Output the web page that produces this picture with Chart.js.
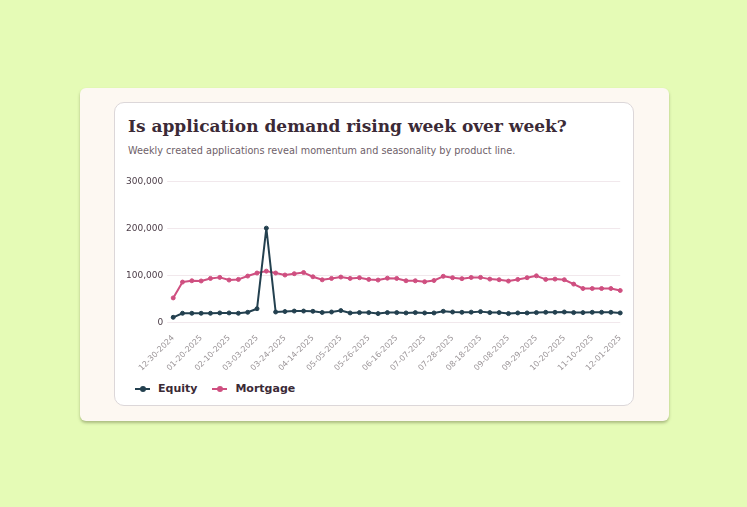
<!DOCTYPE html>
<html>
<head>
<meta charset="utf-8">
<script src="https://cdn.jsdelivr.net/npm/chart.js@4.4.1/dist/chart.umd.min.js"></script>
<style>
  html, body { margin: 0; padding: 0; }
  body {
    width: 747px; height: 507px; background: #e5fbb6;
    position: relative; overflow: hidden;
    font-family: "DejaVu Sans", sans-serif;
  }
  .outer {
    position: absolute; left: 80px; top: 88px; width: 589px; height: 333px;
    background: #fdf8f2; border-radius: 6px;
    box-shadow: 0 2px 3px rgba(60, 70, 30, 0.35);
  }
  .card {
    position: absolute; left: 34px; top: 14px; width: 518px; height: 302px;
    background: #ffffff; border: 1px solid #dcd7d9; border-radius: 10px;
  }
  h1 {
    position: absolute; left: 13px; top: 13px; margin: 0;
    font-family: "DejaVu Serif", serif; font-weight: bold; font-size: 17px;
    color: #3b2a36; white-space: nowrap;
  }
  .sub {
    position: absolute; left: 13px; top: 42px; margin: 0;
    font-size: 9.7px; color: #6f5f6a; white-space: nowrap;
  }
  .chart-box {
    position: absolute; left: 7px; top: 69px; width: 508px; height: 204px;
  }
  .legend {
    position: absolute; left: 20px; top: 279px; display: flex; gap: 15px;
    font-size: 11px; font-weight: bold; color: #3b2a36;
  }
  .legend .item { display: flex; align-items: center; gap: 8px; }
  .legend .mark { position: relative; width: 15px; height: 2px; }
  .legend .mark span {
    position: absolute; left: 5px; top: -2px; width: 6px; height: 6px; border-radius: 50%;
  }
</style>
</head>
<body>
<div class="outer">
  <div class="card">
    <h1>Is application demand rising week over week?</h1>
    <p class="sub">Weekly created applications reveal momentum and seasonality by product line.</p>
    <div class="chart-box"><canvas id="chart"></canvas></div>
    <div class="legend" id="legend"></div>
  </div>
</div>
<script>
// --- datos ---
const weeks = [
  '12-30-2024', '01-06-2025', '01-13-2025', '01-20-2025', '01-27-2025', '02-03-2025', '02-10-2025',
  '02-17-2025', '02-24-2025', '03-03-2025', '03-10-2025', '03-17-2025', '03-24-2025', '03-31-2025',
  '04-07-2025', '04-14-2025', '04-21-2025', '04-28-2025', '05-05-2025', '05-12-2025', '05-19-2025',
  '05-26-2025', '06-02-2025', '06-09-2025', '06-16-2025', '06-23-2025', '06-30-2025', '07-07-2025',
  '07-14-2025', '07-21-2025', '07-28-2025', '08-04-2025', '08-11-2025', '08-18-2025', '08-25-2025',
  '09-01-2025', '09-08-2025', '09-15-2025', '09-22-2025', '09-29-2025', '10-06-2025', '10-13-2025',
  '10-20-2025', '10-27-2025', '11-03-2025', '11-10-2025', '11-17-2025', '11-24-2025', '12-01-2025'
];

const equity = [
  10700, 19300, 19300, 19300, 19300, 20000, 20000, 19300, 21400, 29000, 200500, 22000, 23000, 24000,
  24000, 23500, 21000, 22000, 25000, 20000, 20700, 20700, 18600, 20700, 20700, 20000, 20700, 20000,
  20000, 23500, 22000, 21400, 21700, 22800, 20700, 20700, 18600, 20000, 20000, 20700, 21400, 21400,
  22000, 20700, 20700, 21400, 21400, 21400, 20000
];

const mortgage = [
  52000, 85700, 88500, 88000, 93500, 95700, 90000, 91400, 98500, 105000, 109000, 105000, 100700, 103500,
  106000, 97000, 90500, 93500, 96400, 93500, 95000, 91400, 90000, 94000, 93500, 88500, 88500, 86400,
  89000, 98000, 95000, 93000, 95500, 95700, 92000, 90700, 87800, 91400, 95000, 99000, 91400, 92000,
  90700, 81400, 72000, 72000, 72000, 72000, 67800
];

const yTicks = [0, 100000, 200000, 300000];

const seriesNames = ['Equity', 'Mortgage'];
const seriesColors = ['#23404f', '#cf4f80'];

function makeDataset(idx, values) {
    return {
        label: seriesNames[idx],
        data: values,
        borderColor: seriesColors[idx],
        backgroundColor: seriesColors[idx],
        borderWidth: 2,
        borderJoinStyle: 'round',
        pointRadius: 2,
        pointBorderWidth: 1,
        pointHoverRadius: 3,
        tension: 0
    };
}

const chart = new Chart(document.getElementById('chart').getContext('2d'), {
    type: 'line',
    data: {
        labels: weeks,
        datasets: [makeDataset(0, equity), makeDataset(1, mortgage)]
    },
    options: {
        responsive: true,
        maintainAspectRatio: false,
        animation: false,
        layout: { padding: { right: 4 } },
        plugins: {
            legend: { display: false },
            tooltip: { enabled: false }
        },
        scales: {
            x: {
                grid: { display: false },
                border: { display: false },
                ticks: {
                    autoSkip: false,
                    maxRotation: 45,
                    minRotation: 45,
                    color: '#9b9598',
                    font: { family: 'DejaVu Sans', size: 8 },
                    callback: (value, index) => index % 3 === 0 ? weeks[index] : ''
                }
            },
            y: {
                min: yTicks[0],
                max: yTicks[yTicks.length - 1],
                afterBuildTicks: (axis) => { axis.ticks = yTicks.map(v => ({ value: v })); },
                grid: { color: '#f1e8ec', drawTicks: true, tickLength: 6 },
                border: { display: false },
                ticks: {
                    color: '#4b3c47',
                    padding: 4,
                    font: { family: 'DejaVu Sans', size: 9 },
                    callback: (v) => v.toLocaleString('en-US')
                }
            }
        }
    }
});

// leyenda HTML con línea y punto
const legendEl = document.getElementById('legend');
seriesNames.forEach((name, i) => {
    const item = document.createElement('div');
    item.className = 'item';
    item.innerHTML = `<div class="mark" style="background:${seriesColors[i]}"><span style="background:${seriesColors[i]}"></span></div>${name}`;
    legendEl.appendChild(item);
});
</script>
</body>
</html>
